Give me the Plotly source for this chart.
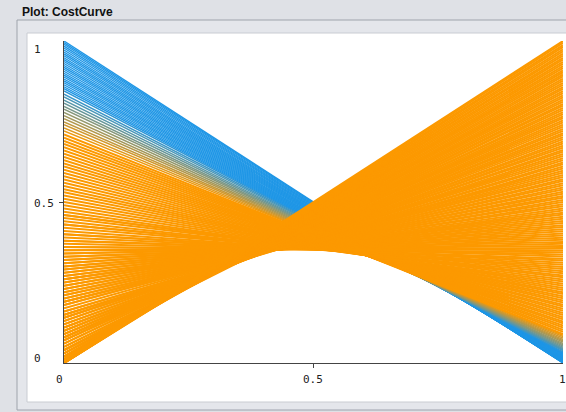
import plotly.graph_objects as go

# ---------------- data ----------------
# Each curve is a straight segment from (0, start) to (1, end)
blue_start = [1.000, 0.995, 0.990, 0.984, 0.978, 0.972, 0.966, 0.960, 0.954, 0.948,
              0.942, 0.936, 0.930, 0.924, 0.918, 0.912, 0.906, 0.900, 0.894, 0.888,
              0.882, 0.876, 0.870, 0.864, 0.858, 0.852]
blue_end = [0.0000, 0.0003, 0.0006, 0.0011, 0.0019, 0.0028, 0.0036, 0.0044, 0.0055, 0.0066,
            0.0077, 0.0090, 0.0103, 0.0116, 0.0131, 0.0146, 0.0161, 0.0177, 0.0194, 0.0211,
            0.0228, 0.0246, 0.0265, 0.0283, 0.0302, 0.0322]

mixed_start = [0.845, 0.835, 0.826, 0.816, 0.807, 0.797, 0.788, 0.778, 0.768, 0.759,
               0.749, 0.740, 0.730, 0.721]
mixed_end = [0.0345, 0.0382, 0.0414, 0.0451, 0.0485, 0.0525, 0.0563, 0.0605, 0.0649, 0.0688,
             0.0731, 0.0771, 0.0818, 0.0862]

orange_start = [0.71, 0.70, 0.69, 0.68, 0.67, 0.66, 0.65, 0.64, 0.63, 0.62,
                0.61, 0.60, 0.59, 0.58, 0.57, 0.56, 0.55, 0.54, 0.53, 0.52,
                0.51, 0.50, 0.49, 0.48, 0.47, 0.46, 0.46, 0.45, 0.44, 0.43,
                0.43, 0.42, 0.41, 0.40, 0.40, 0.39, 0.38, 0.38, 0.37, 0.36,
                0.36, 0.35, 0.35, 0.34, 0.34, 0.33, 0.33, 0.32, 0.32, 0.31,
                0.31, 0.30, 0.30, 0.29, 0.29, 0.28, 0.28, 0.27, 0.27, 0.26,
                0.26, 0.26, 0.25, 0.25, 0.24, 0.24, 0.23, 0.23, 0.22, 0.22,
                0.21, 0.21, 0.20, 0.20, 0.19, 0.19, 0.19, 0.18, 0.18, 0.17,
                0.16, 0.16, 0.15, 0.15, 0.15, 0.14, 0.14, 0.14, 0.13, 0.13,
                0.12, 0.12, 0.11, 0.11, 0.11, 0.10, 0.10, 0.10, 0.09, 0.09,
                0.09, 0.08, 0.08, 0.08, 0.08, 0.07, 0.07, 0.07, 0.06, 0.06,
                0.05, 0.05, 0.04, 0.04, 0.04, 0.04, 0.04, 0.03, 0.03, 0.03,
                0.03, 0.02, 0.02, 0.02, 0.02, 0.02, 0.02, 0.01, 0.01, 0.01,
                0.01, 0.01, 0.01, 0.01, 0.00, 0.00, 0.00, 0.00, 0.00, 0.00,
                0.00]
orange_end = [0.090, 0.097, 0.103, 0.110, 0.116, 0.123, 0.129, 0.136, 0.142, 0.149,
              0.155, 0.162, 0.168, 0.175, 0.181, 0.188, 0.194, 0.201, 0.207, 0.214,
              0.220, 0.227, 0.233, 0.240, 0.246, 0.253, 0.259, 0.266, 0.272, 0.279,
              0.285, 0.292, 0.298, 0.305, 0.311, 0.318, 0.324, 0.331, 0.337, 0.344,
              0.350, 0.357, 0.363, 0.370, 0.376, 0.383, 0.389, 0.396, 0.402, 0.409,
              0.415, 0.422, 0.428, 0.435, 0.441, 0.448, 0.454, 0.461, 0.467, 0.474,
              0.480, 0.487, 0.493, 0.500, 0.506, 0.513, 0.519, 0.526, 0.532, 0.539,
              0.545, 0.552, 0.558, 0.565, 0.571, 0.578, 0.584, 0.591, 0.597, 0.604,
              0.610, 0.617, 0.623, 0.630, 0.636, 0.643, 0.649, 0.656, 0.662, 0.669,
              0.675, 0.682, 0.688, 0.695, 0.701, 0.708, 0.714, 0.721, 0.727, 0.734,
              0.740, 0.747, 0.753, 0.760, 0.766, 0.773, 0.779, 0.786, 0.792, 0.799,
              0.805, 0.812, 0.818, 0.825, 0.831, 0.838, 0.844, 0.851, 0.857, 0.864,
              0.870, 0.877, 0.883, 0.890, 0.896, 0.903, 0.909, 0.916, 0.922, 0.929,
              0.935, 0.942, 0.948, 0.955, 0.961, 0.968, 0.974, 0.981, 0.987, 0.994,
              1.000]

x_positions = [0, 1]
x_tick_vals = [0, 0.5, 1]
x_tick_text = ["0", "0.5", "1"]
y_tick_vals = [1, 0.5, 0]
y_tick_text = ["1", "0.5", "0"]
title_text = "Plot: CostCurve"

# ---------------- styling ----------------
BLUE = (30, 150, 230)
ORANGE = (252, 153, 0)
PAGE_BG = "#dfe1e6"


def mix(t):
    r = round(BLUE[0] + (ORANGE[0] - BLUE[0]) * t)
    g = round(BLUE[1] + (ORANGE[1] - BLUE[1]) * t)
    b = round(BLUE[2] + (ORANGE[2] - BLUE[2]) * t)
    return f"rgb({r},{g},{b})"


fig = go.Figure()

for s, e in zip(blue_start, blue_end):
    fig.add_trace(go.Scatter(x=x_positions, y=[s, e], mode="lines",
                             line=dict(color=mix(0), width=1.3),
                             hoverinfo="skip", showlegend=False))

n_mixed = len(mixed_start)
for i, (s, e) in enumerate(zip(mixed_start, mixed_end)):
    fig.add_trace(go.Scatter(x=x_positions, y=[s, e], mode="lines",
                             line=dict(color=mix((i + 1) / (n_mixed + 1)), width=1.5),
                             hoverinfo="skip", showlegend=False))

for s, e in zip(orange_start, orange_end):
    fig.add_trace(go.Scatter(x=x_positions, y=[s, e], mode="lines",
                             line=dict(color=mix(1), width=2.0),
                             hoverinfo="skip", showlegend=False))

# plot-area geometry (pixels)
L, R, T, B = 64, 3, 41, 49
W, H = 566, 412
pw, ph = W - L - R, H - T - B


def px_x(p):
    return (p - L) / pw


def px_y(p):
    return (H - B - p) / ph


shapes = [
    dict(type="rect", xref="paper", yref="paper", layer="below",
         x0=px_x(17), x1=px_x(580), y0=px_y(410), y1=px_y(20),
         fillcolor="#e4e6eb", line=dict(color="#9ea3ac", width=1)),
    dict(type="rect", xref="paper", yref="paper", layer="below",
         x0=px_x(27), x1=px_x(580), y0=px_y(402), y1=px_y(33),
         fillcolor="#ffffff", line=dict(color="#c9ccd2", width=1)),
]

annotations = [
    dict(text="<b>" + title_text + "</b>", xref="paper", yref="paper",
         x=px_x(20), y=px_y(12), xanchor="left", yanchor="middle",
         showarrow=False, font=dict(family="Liberation Sans, Arial", size=12, color="#111111")),
]

x_shift = {0: -5, 0.5: -1, 1: -1}
for v, t in zip(x_tick_vals, x_tick_text):
    annotations.append(dict(text=t, x=v, xref="x", y=0, yref="paper",
                            xanchor="center", yanchor="middle", yshift=-16, xshift=x_shift[v],
                            showarrow=False,
                            font=dict(family="DejaVu Sans Mono", size=11, color="#222222")))

y_shift = {1: -8, 0.5: -1, 0: 5}
for v, t in zip(y_tick_vals, y_tick_text):
    annotations.append(dict(text=t, x=0, xref="paper", y=v, yref="y",
                            xanchor="left", yanchor="middle", xshift=32 - L, yshift=y_shift[v],
                            showarrow=False,
                            font=dict(family="DejaVu Sans Mono", size=11, color="#222222")))

fig.update_layout(
    width=W, height=H,
    margin=dict(l=L, r=R, t=T, b=B, pad=0),
    paper_bgcolor=PAGE_BG,
    plot_bgcolor="#ffffff",
    shapes=shapes,
    annotations=annotations,
    showlegend=False,
    xaxis=dict(range=[0, 1], showgrid=False, zeroline=False, showline=True,
               linecolor="#444444", linewidth=1, ticks="outside", ticklen=4,
               tickcolor="#444444", tickvals=[0.5], showticklabels=False,
               layer="below traces", fixedrange=True),
    yaxis=dict(range=[0, 1], showgrid=False, zeroline=False, showline=True,
               linecolor="#444444", linewidth=1, ticks="outside", ticklen=4,
               tickcolor="#444444", tickvals=[0.5], showticklabels=False,
               layer="below traces", fixedrange=True),
)

fig.write_html(
    "out.html",
    config={"displayModeBar": False},
    post_script="document.body.style.margin='0';document.body.style.background='" + PAGE_BG + "';",
)
